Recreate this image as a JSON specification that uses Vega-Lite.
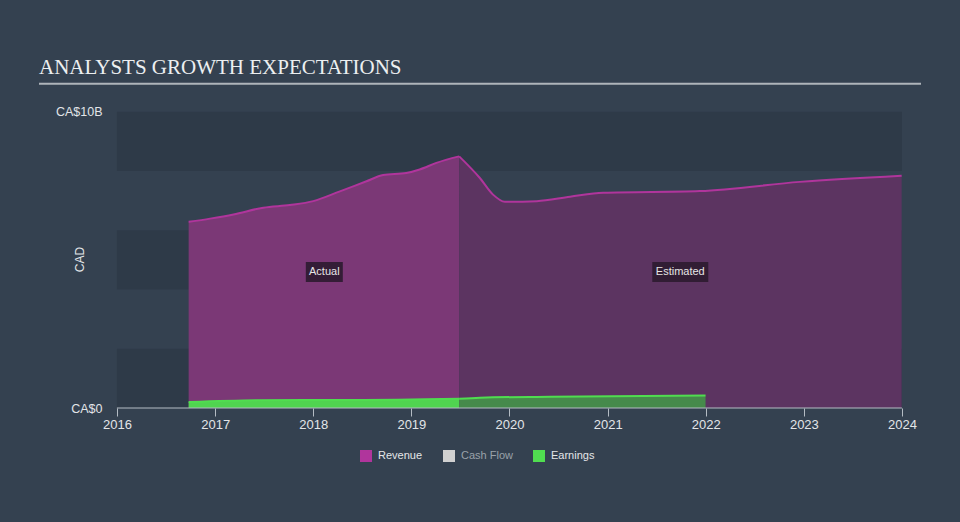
{
  "$schema": "https://vega.github.io/schema/vega-lite/v6.json",
  "width": 882,
  "height": 326,
  "autosize": {"type": "none"},
  "padding": {"left": 39, "top": 82, "right": 39, "bottom": 114},
  "background": "#344150",
  "config": {"view": {"stroke": null}, "font": "Liberation Sans"},
  "title": {
    "text": "ANALYSTS GROWTH EXPECTATIONS",
    "anchor": "start",
    "frame": "group",
    "font": "Liberation Serif",
    "fontSize": 21,
    "fontWeight": "normal",
    "color": "#eceff1",
    "baseline": "alphabetic",
    "offset": 8,
    "dy": 21
  },
  "datasets": {
    "series": [
      {"series": "Revenue", "period": "Actual", "date": "2016-09-24", "value": 6.28},
      {"series": "Revenue", "period": "Actual", "date": "2016-12-13", "value": 6.39},
      {"series": "Revenue", "period": "Actual", "date": "2017-03-10", "value": 6.53},
      {"series": "Revenue", "period": "Actual", "date": "2017-06-29", "value": 6.76},
      {"series": "Revenue", "period": "Actual", "date": "2017-10-06", "value": 6.85},
      {"series": "Revenue", "period": "Actual", "date": "2018-01-01", "value": 6.98},
      {"series": "Revenue", "period": "Actual", "date": "2018-04-10", "value": 7.31},
      {"series": "Revenue", "period": "Actual", "date": "2018-07-18", "value": 7.65},
      {"series": "Revenue", "period": "Actual", "date": "2018-09-18", "value": 7.86},
      {"series": "Revenue", "period": "Actual", "date": "2018-12-13", "value": 7.93},
      {"series": "Revenue", "period": "Actual", "date": "2019-02-01", "value": 8.05},
      {"series": "Revenue", "period": "Actual", "date": "2019-04-04", "value": 8.27},
      {"series": "Revenue", "period": "Actual", "date": "2019-06-28", "value": 8.49},
      {"series": "Revenue", "period": "Estimated", "date": "2019-06-28", "value": 8.49},
      {"series": "Revenue", "period": "Estimated", "date": "2019-09-13", "value": 7.76},
      {"series": "Revenue", "period": "Estimated", "date": "2019-11-01", "value": 7.2},
      {"series": "Revenue", "period": "Estimated", "date": "2019-12-15", "value": 6.96},
      {"series": "Revenue", "period": "Estimated", "date": "2020-04-12", "value": 6.98},
      {"series": "Revenue", "period": "Estimated", "date": "2020-08-14", "value": 7.13},
      {"series": "Revenue", "period": "Estimated", "date": "2020-12-15", "value": 7.26},
      {"series": "Revenue", "period": "Estimated", "date": "2021-12-10", "value": 7.32},
      {"series": "Revenue", "period": "Estimated", "date": "2022-12-17", "value": 7.63},
      {"series": "Revenue", "period": "Estimated", "date": "2023-12-31", "value": 7.84},
      {"series": "Earnings", "period": "Actual", "date": "2016-09-24", "value": 0.2},
      {"series": "Earnings", "period": "Actual", "date": "2017-06-01", "value": 0.26},
      {"series": "Earnings", "period": "Actual", "date": "2017-12-01", "value": 0.27},
      {"series": "Earnings", "period": "Actual", "date": "2018-06-01", "value": 0.27},
      {"series": "Earnings", "period": "Actual", "date": "2019-06-28", "value": 0.31},
      {"series": "Earnings", "period": "Estimated", "date": "2019-06-28", "value": 0.31},
      {"series": "Earnings", "period": "Estimated", "date": "2019-09-13", "value": 0.35},
      {"series": "Earnings", "period": "Estimated", "date": "2020-06-01", "value": 0.38},
      {"series": "Earnings", "period": "Estimated", "date": "2021-12-31", "value": 0.42}
    ],
    "bands": [
      {"lo": 0, "hi": 2},
      {"lo": 4, "hi": 6},
      {"lo": 8, "hi": 10}
    ],
    "notes": [
      {"label": "Actual", "date": "2018-02-11", "value": 4.59},
      {"label": "Estimated", "date": "2021-09-28", "value": 4.59}
    ]
  },
  "layer": [
    {
      "data": {"name": "bands"},
      "mark": {"type": "rect", "color": "#2e3a48"},
      "encoding": {
        "x": {
          "datum": {"year": 2016, "utc": true},
          "type": "temporal",
          "scale": {
            "type": "utc",
            "domain": [
              {"year": 2015, "month": 3, "date": 17, "utc": true},
              {"year": 2024, "month": 3, "date": 12, "utc": true}
            ]
          },
          "axis": {
            "values": [
              {"year": 2016, "utc": true}, {"year": 2017, "utc": true}, {"year": 2018, "utc": true},
              {"year": 2019, "utc": true}, {"year": 2020, "utc": true}, {"year": 2021, "utc": true},
              {"year": 2022, "utc": true}, {"year": 2023, "utc": true}, {"year": 2024, "utc": true}
            ],
            "format": "%Y",
            "domain": false,
            "grid": false,
            "tickColor": "#b4bcc4",
            "tickSize": 8,
            "labelPadding": 2,
            "labelFontSize": 13,
            "labelColor": "#e2e5e8",
            "labelFlush": false,
            "title": null
          }
        },
        "x2": {"datum": {"year": 2024, "utc": true}},
        "y": {
          "field": "lo",
          "type": "quantitative",
          "scale": {"domain": [0, 10.94]},
          "axis": {
            "orient": "left",
            "offset": -78,
            "values": [0, 10],
            "labelExpr": "datum.value == 0 ? 'CA$0' : 'CA$10B'",
            "domain": false,
            "ticks": false,
            "tickSize": 0,
            "grid": false,
            "labelPadding": 15,
            "labelFontSize": 12.5,
            "labelColor": "#e2e5e8",
            "title": "CAD",
            "titleFontSize": 12,
            "titleFontWeight": "normal",
            "titleColor": "#e2e5e8",
            "titleX": -38,
            "titleY": 177,
            "titleAngle": -90,
            "titleAlign": "center",
            "titleBaseline": "middle"
          }
        },
        "y2": {"field": "hi"}
      }
    },
    {
      "data": {"name": "series"},
      "transform": [{"filter": "datum.series == 'Revenue' && datum.period == 'Actual'"}],
      "mark": {"type": "area", "fill": "#7b3876", "interpolate": "monotone"},
      "encoding": {
        "x": {"field": "date", "type": "temporal"},
        "y": {"field": "value", "type": "quantitative"}
      }
    },
    {
      "data": {"name": "series"},
      "transform": [{"filter": "datum.series == 'Revenue' && datum.period == 'Estimated'"}],
      "mark": {"type": "area", "fill": "#5c3461", "interpolate": "monotone"},
      "encoding": {
        "x": {"field": "date", "type": "temporal"},
        "y": {"field": "value", "type": "quantitative"}
      }
    },
    {
      "data": {"name": "series"},
      "transform": [{"filter": "datum.series == 'Earnings' && datum.period == 'Actual'"}],
      "mark": {"type": "area", "fill": "#50d450", "interpolate": "monotone"},
      "encoding": {
        "x": {"field": "date", "type": "temporal"},
        "y": {"field": "value", "type": "quantitative"}
      }
    },
    {
      "data": {"name": "series"},
      "transform": [{"filter": "datum.series == 'Earnings' && datum.period == 'Estimated'"}],
      "mark": {"type": "area", "fill": "#468a4b", "interpolate": "monotone"},
      "encoding": {
        "x": {"field": "date", "type": "temporal"},
        "y": {"field": "value", "type": "quantitative"}
      }
    },
    {
      "data": {"name": "series"},
      "mark": {"type": "line", "strokeWidth": 2, "interpolate": "monotone"},
      "encoding": {
        "x": {"field": "date", "type": "temporal"},
        "y": {"field": "value", "type": "quantitative"},
        "detail": {"field": "period"},
        "color": {
          "field": "series",
          "type": "nominal",
          "scale": {"domain": ["Revenue", "Cash Flow", "Earnings"], "range": ["#b0359c", "#d0d0d0", "#50dd50"]},
          "legend": {
            "orient": "none",
            "legendX": 321,
            "legendY": 368,
            "direction": "horizontal",
            "title": null,
            "padding": 0,
            "symbolType": "square",
            "symbolSize": 144,
            "symbolStrokeWidth": 0,
            "labelFontSize": 11,
            "labelOffset": 6,
            "columnPadding": 20,
            "labelColor": "#e4e6e8",
            "encode": {
              "symbols": {"update": {"fill": {"scale": "color", "field": "value"}, "fillOpacity": {"value": 1}, "opacity": {"value": 1}, "strokeWidth": {"value": 0}}},
              "labels": {"update": {"fill": {"signal": "datum.value === 'Cash Flow' ? '#9aa2aa' : '#e4e6e8'"}}}
            }
          }
        }
      }
    },
    {
      "data": {"values": [{}]},
      "mark": {"type": "rule", "color": "#b4bcc4", "strokeWidth": 1},
      "encoding": {
        "x": {"datum": {"year": 2016, "utc": true}, "type": "temporal"},
        "x2": {"datum": {"year": 2024, "utc": true}},
        "y": {"datum": 0, "type": "quantitative"}
      }
    },
    {
      "data": {"values": [{}]},
      "mark": {"type": "rule", "color": "#aeb4ba", "strokeWidth": 2},
      "encoding": {
        "y": {"datum": 10.94, "type": "quantitative"}
      }
    },
    {
      "data": {"name": "notes"},
      "transform": [{"filter": "datum.label == 'Actual'"}],
      "mark": {"type": "point", "filled": true, "shape": "M-1,-0.54L1,-0.54L1,0.54L-1,0.54Z", "size": 1369, "color": "#2e1b31", "opacity": 0.92, "strokeWidth": 0},
      "encoding": {
        "x": {"field": "date", "type": "temporal"},
        "y": {"field": "value", "type": "quantitative"}
      }
    },
    {
      "data": {"name": "notes"},
      "transform": [{"filter": "datum.label == 'Estimated'"}],
      "mark": {"type": "point", "filled": true, "shape": "M-1,-0.357L1,-0.357L1,0.357L-1,0.357Z", "size": 3136, "color": "#2e1b31", "opacity": 0.92, "strokeWidth": 0},
      "encoding": {
        "x": {"field": "date", "type": "temporal"},
        "y": {"field": "value", "type": "quantitative"}
      }
    },
    {
      "data": {"name": "notes"},
      "mark": {"type": "text", "color": "#e6e6e6", "fontSize": 11, "align": "center", "baseline": "middle"},
      "encoding": {
        "x": {"field": "date", "type": "temporal"},
        "y": {"field": "value", "type": "quantitative"},
        "text": {"field": "label"}
      }
    }
  ]
}
